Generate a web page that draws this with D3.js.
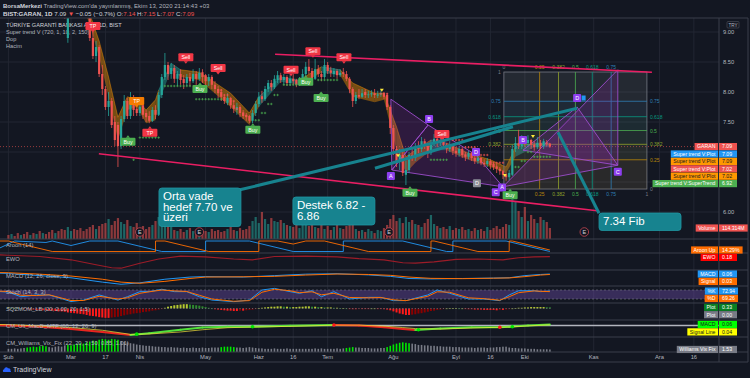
<!DOCTYPE html>
<html>
<head>
<meta charset="utf-8">
<title>BIST:GARAN 1D</title>
<script src="https://cdn.jsdelivr.net/npm/d3@7"></script>
<style>
  html, body { margin: 0; padding: 0; background: #131722; }
  svg { display: block; }
  text { font-family: "Liberation Sans", Arial, sans-serif; }
</style>
</head>
<body>
<div id="chart"></div>
<script>
// ---------- data (bar index 0 = 3 Şubat 2020, daily bars) ----------
// [open, high, low, close]
const candles = [
  [11.9,12.0,11.7,11.8],[11.8,11.95,11.6,11.9],[11.9,12.05,11.8,11.85],[11.85,11.9,11.6,11.65],
  [11.65,11.8,11.5,11.75],[11.75,11.85,11.55,11.6],[11.6,11.7,11.35,11.4],[11.4,11.55,11.3,11.5],
  [11.5,11.6,11.2,11.25],[11.25,11.4,11.1,11.3],[11.3,11.35,10.9,10.95],[10.95,11.1,10.8,11.05],
  [11.05,11.1,10.7,10.75],[10.75,10.9,10.5,10.55],[10.55,10.6,10.1,10.15],[10.15,10.4,10.0,10.3],
  [10.3,10.35,9.8,9.85],[9.85,9.9,9.4,9.45],[9.45,9.55,9.22,9.25],[8.9,9.7,8.82,9.6],
  [9.6,10.1,9.5,10.0],[10.0,10.2,9.8,9.9],[9.9,10.0,9.6,9.7],[9.7,9.8,9.4,9.5],
  [9.5,9.65,9.3,9.4],[9.4,9.5,9.25,9.3],[9.3,9.35,8.85,8.9],[8.9,9.0,8.55,8.6],
  [8.6,8.85,8.5,8.75],[8.75,8.78,8.25,8.3],[8.3,8.45,7.95,8.05],[8.05,8.1,7.7,7.75],
  [7.75,8.0,7.6,7.85],[7.85,7.9,7.4,7.45],[7.5,7.6,7.1,7.2],[7.45,7.5,6.75,7.1],
  [7.1,7.6,7.05,7.55],[7.55,7.95,7.5,7.85],[7.85,7.9,7.55,7.6],[7.6,8.0,7.55,7.9],
  [7.9,7.95,7.6,7.7],[7.72,7.85,7.6,7.65],[7.65,7.9,7.6,7.75],[7.78,7.82,7.55,7.62],
  [7.65,7.7,7.5,7.58],[7.6,7.68,7.48,7.52],[7.52,7.75,7.5,7.7],[7.7,7.78,7.55,7.62],
  [7.62,8.0,7.6,7.95],[7.95,8.3,7.9,8.25],[8.25,8.65,8.2,8.45],[8.45,8.5,8.2,8.3],
  [8.3,8.48,8.22,8.4],[8.4,8.45,8.15,8.22],[8.22,8.35,8.1,8.3],[8.3,8.38,8.12,8.2],
  [8.22,8.28,8.05,8.15],[8.15,8.3,8.1,8.25],[8.25,8.32,8.1,8.18],[8.18,8.38,8.15,8.3],
  [8.3,8.35,8.12,8.22],[8.22,8.4,8.18,8.32],[8.33,8.38,8.15,8.25],[8.28,8.3,8.08,8.18],
  [8.18,8.3,8.1,8.25],[8.25,8.28,8.05,8.12],[8.12,8.18,7.98,8.05],[8.05,8.1,7.9,7.98],
  [8.0,8.05,7.85,7.92],[7.92,7.96,7.8,7.85],[7.82,7.98,7.78,7.9],[7.9,7.92,7.72,7.78],
  [7.78,7.85,7.65,7.72],[7.7,7.82,7.62,7.75],[7.75,7.78,7.58,7.65],[7.66,7.7,7.55,7.6],
  [7.62,7.65,7.52,7.58],[7.6,7.62,7.48,7.52],[7.52,7.7,7.48,7.65],[7.65,7.85,7.6,7.8],
  [7.8,8.0,7.75,7.92],[7.93,8.02,7.82,7.88],[7.88,8.1,7.85,8.05],[8.05,8.2,8.0,8.15],
  [8.15,8.2,8.02,8.08],[8.08,8.28,8.05,8.22],[8.2,8.35,8.15,8.28],[8.28,8.32,8.15,8.2],
  [8.2,8.3,8.12,8.25],[8.25,8.28,8.1,8.15],[8.15,8.28,8.1,8.22],[8.22,8.3,8.12,8.18],
  [8.2,8.22,8.08,8.12],[8.12,8.25,8.1,8.2],[8.2,8.38,8.15,8.3],[8.3,8.5,8.25,8.42],
  [8.42,8.55,8.3,8.35],[8.35,8.4,8.15,8.22],[8.22,8.55,8.2,8.38],[8.38,8.45,8.25,8.3],
  [8.3,8.35,8.18,8.25],[8.25,8.55,8.22,8.45],[8.45,8.5,8.3,8.35],[8.36,8.42,8.25,8.32],
  [8.3,8.4,8.25,8.35],[8.35,8.38,8.22,8.28],[8.28,8.38,8.25,8.32],[8.33,8.4,8.25,8.3],
  [8.3,8.35,8.18,8.22],[8.22,8.25,7.98,8.05],[8.05,8.08,7.75,7.85],[7.85,8.0,7.8,7.95],
  [7.95,8.05,7.88,7.92],[7.92,8.05,7.9,7.98],[8.0,8.05,7.9,7.95],[7.95,8.02,7.9,7.96],
  [7.96,8.03,7.92,7.98],[7.98,8.05,7.9,7.95],[7.94,8.02,7.9,7.96],[7.96,8.03,7.92,7.98],
  [7.98,8.0,7.88,7.92],[7.95,7.98,7.7,7.75],[7.75,7.78,7.3,7.4],[7.4,7.45,6.95,7.05],
  [7.05,7.1,6.75,6.85],[6.85,7.05,6.7,6.95],[6.95,7.0,6.6,6.65],[6.62,6.85,6.45,6.7],
  [6.7,7.0,6.65,6.95],[6.95,7.05,6.85,6.9],[6.9,7.15,6.85,7.1],[7.1,7.18,6.98,7.05],
  [7.05,7.25,7.0,7.18],[7.18,7.22,7.05,7.1],[7.1,7.15,6.9,6.98],[6.98,7.2,6.95,7.15],
  [7.15,7.3,7.1,7.22],[7.22,7.25,7.08,7.15],[7.15,7.28,7.1,7.2],[7.2,7.3,7.05,7.12],
  [7.12,7.15,6.98,7.05],[7.05,7.18,7.0,7.1],[7.1,7.12,6.95,7.02],[7.02,7.08,6.92,6.98],
  [6.98,7.1,6.92,7.05],[7.05,7.08,6.9,6.95],[6.96,7.0,6.85,6.92],[6.92,7.02,6.88,6.98],
  [6.98,7.0,6.85,6.9],[6.9,6.95,6.8,6.85],[6.85,6.95,6.8,6.9],[6.9,6.92,6.78,6.82],
  [6.82,6.88,6.75,6.8],[6.8,6.9,6.75,6.85],[6.85,6.88,6.72,6.78],[6.8,6.82,6.7,6.75],
  [6.76,6.8,6.65,6.72],[6.72,6.75,6.62,6.68],[6.68,6.7,6.55,6.62],[6.62,6.66,6.52,6.58],
  [6.58,6.7,6.53,6.65],[6.62,7.12,6.6,7.05],[7.05,7.25,7.0,7.15],[7.15,7.37,7.05,7.1],
  [7.1,7.28,7.05,7.22],[7.22,7.25,7.08,7.15],[7.15,7.28,7.1,7.2],[7.2,7.22,7.05,7.12],
  [7.12,7.18,7.02,7.08],[7.08,7.25,7.05,7.15],[7.15,7.2,7.05,7.1],[7.1,7.22,7.05,7.18],
  [7.16,7.2,7.1,7.14],[7.14,7.15,7.07,7.09]
];

// volume, millions
const volume = [
  42,52,31,62,42,52,73,42,62,52,83,62,52,73,94,62,83,104,94,
  125,83,104,94,114,83,104,125,146,104,135,156,
  166,208,146,187,218,177,156,198,135,125,166,114,135,104,125,
  146,187,229,208,166,156,125,
  94,83,104,73,94,114,83,73,94,62,83,73,104,83,94,73,83,104,125,94,83,114,94,104,135,
  187,229,166,281,208,156,218,187,177,198,166,146,135,
  125,156,114,146,187,135,166,125,114,156,104,135,94,125,146,114,104,135,177,198,
  104,83,94,73,104,83,62,94,83,114,146,
  208,250,187,218,166,229,177,198,156,
  146,125,166,208,250,156,135,114,125,104,135,94,114,104,125,94,104,83,114,94,
  104,83,125,94,114,135,104,125,156,146,
  478,395,
  291,229,333,187,250,208,166,229,198,177,114.314
];

// x axis ticks
const tickBars = [0, 20, 31, 42, 63, 80, 91, 102, 123, 143, 154, 165, 187, 208, 219];
const tickLabels = ['Şub','Mar','17','Nis','May','Haz','16','Tem','Ağu','Eyl','16','Eki','Kas','Ara','16'];
const priceTicks = [6.0, 6.5, 7.0, 7.5, 8.0, 8.5, 9.0];

// Super trend V band: [bar, upper, lower, trend]
const stBand = [
  [24,9.6,9.4,'d'],[26,9.3,9.12,'d'],[29,8.85,8.58,'d'],[32,8.25,7.92,'d'],[35,7.58,7.2,'d'],
  [38,7.92,7.7,'d'],[41,7.87,7.75,'d'],[44,7.7,7.48,'d'],[47,7.87,7.53,'d'],[48,8.03,7.82,'u'],
  [52,8.48,8.37,'u'],[55,8.37,8.25,'d'],[61,8.33,8.2,'d'],[71,7.98,7.75,'d'],[77,7.65,7.45,'d'],
  [80,7.92,7.75,'u'],[87,8.25,8.17,'u'],[93,8.2,8.12,'d'],[100,8.42,8.32,'u'],[106,8.37,8.28,'d'],
  [110,8.15,7.92,'d'],[117,7.98,7.83,'d'],[120,7.98,7.87,'d'],[124,7.42,7.03,'d'],[127,6.92,6.65,'d'],
  [130,7.03,6.82,'d'],[135,7.2,7.03,'u'],[140,7.15,7.03,'d'],[147,6.98,6.87,'d'],[154,6.87,6.75,'d'],
  [159,6.75,6.65,'d'],[162,7.08,6.92,'u'],[168,7.15,7.08,'u'],[173,7.15,7.08,'u']
];

// trailing stop dots: [fromBar, toBar, price, side]
const stDots = [
  [40,40,6.87,'g'],[42,48,7.24,'g'],[50,58,8.1,'g'],[60,68,7.88,'g'],
  [79,80,7.53,'g'],[81,82,7.65,'g'],[83,84,7.8,'g'],[85,86,7.95,'g'],[88,93,8.12,'g'],
  [99,105,8.2,'g'],[135,140,6.87,'g'],[162,163,6.75,'g'],[164,165,6.85,'g'],[166,167,7.0,'g'],[168,173,6.92,'g'],
  [67,68,8.03,'r'],[69,70,7.95,'r'],[71,72,7.85,'r'],[73,74,7.72,'r'],[119,121,7.97,'r'],
  [142,145,7.2,'r'],[146,149,7.08,'r'],[150,153,6.95,'r'],[154,158,6.82,'r']
];

// signal labels: [bar, price, text, pointer]
const signals = [
  [27,9.1,'TP','down'],[38.2,7.17,'Buy','up'],[41,7.85,'TP','down'],[45.2,7.32,'TP','up'],
  [56.7,8.58,'Sell','down'],[61.2,8.05,'Buy','up'],[67,8.4,'Sell','down'],[78.1,7.37,'Buy','up'],
  [90.3,8.37,'Sell','down'],[95,8.17,'Buy','up'],[97.3,8.68,'Sell','down'],[99.9,7.9,'Buy','up'],
  [107.2,8.58,'Sell','down'],[138.5,7.3,'Sell','down'],[128.3,6.32,'Buy','up'],[160.3,6.28,'Buy','up']
];
const tpOrangeBar = 41;

// small yellow markers
const tMarks = [[119.3,8.02],[124.5,6.93],[158.6,6.6],[167.6,7.25]];

// earnings markers (bar index)
const earnings = [42, 61, 121.6, 184];

// trend lines [[bar, price], [bar, price]]
const pinkLines = [
  [[28.9,6.97],[188.1,6.02]],
  [[85.2,8.63],[205.6,8.33]]
];

// harmonic patterns
const patternPolys = [
  [[122.2,7.88],[134.1,7.45],[122.5,6.70]],
  [[134.1,7.45],[149.4,6.95],[158,6.42],[122.5,6.70]],
  [[158,6.42],[194.7,8.37],[194.7,6.78]],
  [[164.4,7.03],[181.7,7.75],[194.7,6.78]]
];
const patternLabels = [
  [122.2,6.6,'A'],[134.4,7.55,'B'],[149.4,7.0,'D'],[155.7,6.33,'C'],[157.7,6.41,'A'],
  [164.4,7.2,'B'],[181.7,7.9,'D'],[194.7,6.67,'C']
];
const grayLabel = [149.7,6.48,'D'];

// fib grid
const fibBars = [158.3, 204.0];
const fibPrices = [6.383, 8.333];
const fibLevels = [0, 0.25, 0.382, 0.5, 0.618, 0.75, 1];

// callouts: anchor [bar, price] of the box top-left, the pointer line, text lines
const callouts = [
  { at: [48.1, 6.4], line: [[74,6.37],[181.7,7.73]], text: ['Orta vade','hedef 7.70 ve','üzeri'] },
  { at: [90.9, 6.25], line: [[117.1,6.73],[161.2,7.42]], text: ['Destek 6.82 -','6.86'] },
  { at: [188.7, 5.983], line: [[188.7,5.98],[175.6,7.33]], text: ['7.34 Fib'] }
];

// Aroon (14): [bar, value]
const aroonUp = [[-3,100],[0,100],[14,0],[47,0],[47.01,100],[50,100],[64,0],[80,0],[80.01,100],[86,100],[91,71],
  [95,100],[101,100],[115,0],[135,0],[135.01,100],[136,100],[150,0],[160,0],[160.01,100],[161,100],[173,14.29]];
const aroonDown = [[-3,30],[2,100],[12,86],[14,100],[20,57],[26,100],[35,100],[49,0],[63,0],[63.01,100],[66,100],
  [77,100],[91,0],[107,0],[107.01,100],[110,100],[119,100],[126,100],[140,0],[142,0],[142.01,100],[154,100],[159,100],[173,0]];

// EWO
const ewo = [[-3,0.4],[0,0.35],[10,0.2],[20,-0.2],[28,-0.8],[33,-1.15],[36,-1.2],[42,-0.6],[48,-0.1],[55,0.25],
  [63,0.15],[72,-0.1],[78,-0.2],[85,0.2],[95,0.25],[105,0.15],[112,-0.05],[120,-0.2],[126,-0.55],[130,-0.6],
  [136,-0.45],[143,-0.15],[150,-0.1],[158,-0.2],[163,0.05],[168,0.15],[173,0.18]];

// MACD (12, 26, close, 9)
const macdLine = [[-3,0.12],[0,0.1],[10,-0.05],[20,-0.2],[30,-0.5],[36,-0.65],[42,-0.55],[50,-0.3],[58,-0.15],
  [63,-0.12],[75,-0.15],[85,-0.05],[95,0.05],[105,0.08],[115,0.0],[122,-0.1],[128,-0.25],[135,-0.28],[145,-0.25],
  [155,-0.22],[160,-0.2],[165,-0.05],[170,0.03],[173,0.06]];
const macdSignal = [[-3,0.16],[0,0.15],[10,0.05],[20,-0.08],[30,-0.3],[36,-0.5],[42,-0.58],[50,-0.45],[58,-0.25],
  [63,-0.15],[75,-0.13],[85,-0.1],[95,-0.01],[105,0.06],[115,0.03],[122,-0.03],[128,-0.15],[135,-0.24],[145,-0.26],
  [155,-0.23],[160,-0.21],[165,-0.12],[170,-0.01],[173,0.03]];

// Stoch (14, 3, 3)
const stochK = [[-3,70],[0,66],[4,35],[9,47],[13,47],[20,3],[24,13],[29,47],[35,13],[38,35],[42,69],[45,69],[49,85],
  [53,69],[57,69],[61,35],[65,13],[72,2],[77,13],[81,80],[85,91],[90,69],[93,58],[97,75],[100,35],[104,69],
  [109,20],[115,31],[119,31],[123,9],[127,9],[134,47],[137,80],[141,58],[147,20],[152,20],[157,9],[160,47],
  [163,75],[168,75],[170,69],[173,72.94]];
const stochD = [[-3,72],[0,70],[4,45],[9,43],[13,48],[20,10],[24,10],[29,38],[35,20],[38,28],[42,58],[45,68],[49,80],
  [53,74],[57,70],[61,45],[65,20],[72,5],[77,9],[81,65],[85,85],[90,75],[93,62],[97,68],[100,48],[104,58],
  [109,30],[115,28],[119,30],[123,15],[127,9],[134,38],[137,68],[141,65],[147,28],[152,22],[157,12],[160,35],
  [163,62],[168,74],[170,71],[173,69.26]];

// SQZMOM_LB momentum per bar
const sqz = [
  0.3,0.2,0.2,0.1,0.0,-0.1,
  -0.2,-0.3,-0.3,-0.4,-0.4,-0.5,-0.5,-0.6,-0.6,-0.7,-0.8,-0.8,-0.9,-1.1,
  -1.2,-1.3,-1.4,-1.5,-1.6,-1.8,-2.0,-2.1,-2.2,-2.4,-2.5,-2.6,-2.6,-2.5,-2.4,-2.3,
  -2.1,-1.9,-1.7,-1.6,-1.4,-1.3,-1.2,-1.0,-0.9,-0.8,-0.6,-0.5,-0.3,-0.1,0.2,
  0.5,0.7,0.9,1.0,1.1,1.2,1.2,1.1,1.0,0.9,0.8,0.6,0.4,
  0.2,0.0,-0.2,-0.3,-0.4,-0.5,-0.6,-0.6,-0.7,-0.7,-0.6,-0.6,-0.5,-0.4,-0.3,
  -0.1,0.1,0.2,0.3,0.4,0.5,0.5,0.6,0.6,0.5,0.5,0.4,0.4,0.4,0.5,0.5,0.6,0.6,0.5,0.5,0.4,0.4,0.3,0.3,0.3,0.2,0.2,
  0.1,0.1,0.0,-0.1,-0.2,-0.2,-0.1,-0.1,-0.1,-0.1,0.0,0.0,-0.1,-0.1,-0.2,-0.3,
  -0.5,-0.8,-1.1,-1.4,-1.6,-1.8,-1.8,-1.7,-1.6,-1.4,-1.3,-1.1,-0.9,-0.7,-0.6,-0.4,-0.3,-0.1,0.0,
  0.1,0.1,0.1,0.0,0.0,-0.1,
  -0.2,-0.2,-0.3,-0.3,-0.3,-0.4,-0.4,-0.4,-0.4,-0.5,-0.4,-0.4,-0.3,-0.2,
  0.0,0.1,0.2,0.2,0.3,0.3,0.4,0.4,0.4,0.4,0.4,0.35,0.33
];

// CM_Ult_MacD_MTF
const cmMacd = [[-3,0.02],[0,0.0],[10,-0.08],[20,-0.2],[30,-0.38],[39,-0.56],[45,-0.45],[55,-0.25],[62,-0.12],
  [70,-0.08],[78,-0.07],[90,-0.02],[104,0.03],[112,0.0],[120,-0.1],[126,-0.2],[130,-0.26],[138,-0.18],[148,-0.1],
  [157,-0.1],[160,-0.08],[166,0.0],[173,0.06]];
const cmSignal = [[-3,0.06],[0,0.05],[10,-0.03],[20,-0.12],[30,-0.28],[39,-0.52],[45,-0.5],[55,-0.38],[62,-0.25],
  [70,-0.13],[78,-0.09],[90,-0.05],[104,0.02],[112,0.02],[120,-0.04],[126,-0.12],[130,-0.18],[138,-0.21],[148,-0.15],
  [157,-0.1],[160,-0.09],[166,-0.02],[173,0.04]];
const cmCross = [[41,-0.51,'up'],[78,-0.07,'up'],[104,0.03,'dn'],[131,-0.25,'up'],[157,-0.1,'dn'],[161,-0.07,'up']];

// CM_Williams_Vix_Fix per bar
const wvf = [
  3,3,4,3,4,5,
  6,7,8,7,9,10,9,
  7,6,8,9,8,10,
  12,11,13,14,16,15,18,20,22,21,24,26,25,24,26,25,24,
  21,19,18,16,15,13,12,
  11,10,10,9,8,8,7,7,6,7,6,6,5,6,5,5,6,5,5,6,5,
  5,6,6,6,7,8,8,8,7,6,6,5,
  6,7,6,5,4,4,3,3,3,4,3,3,3,4,3,3,3,3,3,3,3,3,4,3,4,3,3,3,3,4,3,4,5,6,7,
  6,6,5,5,5,4,4,4,5,5,7,
  10,13,15,17,18,17,16,15,14,12,
  12,11,11,10,10,9,9,8,8,8,7,7,7,6,6,6,6,5,6,
  6,6,5,6,6,7,7,8,8,6,5,5,4,4,4,3,3,3,2,2,2,2,1.53
];
const wvfAlertRanges = [[6,12],[19,35],[68,72],[108,110],[121,128]];

// right-axis tags: [label, value text, value, scale key, colour key]
const tags = [
  ['GARAN','7.09',7.09,'price','red'],
  ['Super trend V:Plot','7.09',7.09,'price','blue'],
  ['Super trend V:Plot','7.09',7.09,'price','orange'],
  ['Super trend V:Plot','7.02',7.02,'price','red'],
  ['Super trend V:Plot','7.02',7.02,'price','orange'],
  ['Super trend V:SuperTrend','6.92',6.92,'price','green'],
  ['Volume','114.314M',114.314,'vol','red'],
  ['Aroon Up','14.29%',14.29,'aroon','orange2'],
  ['EWO','0.18',0.18,'ewo','pure'],
  ['MACD','0.06',0.06,'macd','blue'],
  ['Signal','0.03',0.03,'macd','orange2'],
  ['%K','72.94',72.94,'stoch','blue'],
  ['%D','69.26',69.26,'stoch','orange2'],
  ['Plot','0.33',0.33,'sqz','dgreen'],
  ['Plot','0.00',0,'sqz','gray'],
  ['MACD','0.06',0.06,'cm','lime'],
  ['Signal Line','0.04',0.04,'cm','yellow'],
  ['Williams Vix Fix','1.53',1.53,'wvf','gray']
];

// ---------- layout & styles ----------
const W = 750, H = 378;
const AXIS_X = 719, RIGHT = 748;
const MAIN = { y0: 18, y1: 239 };
const panes = [
  { key: 'aroon', y0: 239, y1: 253, title: 'Aroon (14)' },
  { key: 'ewo', y0: 253, y1: 270, title: 'EWO' },
  { key: 'macd', y0: 270, y1: 286, title: 'MACD (12, 26, close, 9)' },
  { key: 'stoch', y0: 286, y1: 303, title: 'Stoch (14, 3, 3)' },
  { key: 'sqz', y0: 303, y1: 320, title: 'SQZMOM_LB (20, 2.00, 20, 1.5)' },
  { key: 'cm', y0: 320, y1: 337, title: 'CM_Ult_MacD_MTF (60, 12, 26, 9)' },
  { key: 'wvf', y0: 337, y1: 352, title: 'CM_Williams_Vix_Fix (22, 20, 2, 50, 0.85, 1.01)' }
];
const BG = '#131722', GRID = '#222632', SEP = '#3a3e4a', TXT = '#b2b5be';
const UP = '#26a69a', DOWN = '#ef5350';
const tagColors = {
  red: ['#ef5350', '#ffffff'], blue: ['#2196f3', '#ffffff'], orange: ['#ff9800', '#131722'],
  green: ['#4caf50', '#ffffff'], orange2: ['#ff6d00', '#ffffff'], pure: ['#ff0000', '#ffffff'],
  dgreen: ['#087f23', '#ffffff'], gray: ['#787b86', '#ffffff'], lime: ['#00ff00', '#131722'],
  yellow: ['#ffff00', '#131722']
};
const fibColors = { 0: '#787b86', 0.25: '#b8860b', 0.382: '#8fa12b', 0.5: '#4caf50', 0.618: '#089981', 0.75: '#2f7fb5', 1: '#787b86' };
const TEAL = '#17838f';

// ---------- scales ----------
const x = d3.scaleLinear().domain([0, 173]).range([8.4, 8.4 + 173 * 3.13]);
const priceY = d3.scaleLinear().domain([6, 9]).range([212, 32]);
const volY = d3.scaleLinear().domain([0, 520]).range([239, 189]);
const sc = {
  price: priceY,
  vol: volY,
  aroon: d3.scaleLinear().domain([0, 100]).range([251.5, 241]),
  ewo: d3.scaleLinear().domain([-1.3, 0.5]).range([269, 254]),
  macd: d3.scaleLinear().domain([-0.7, 0.2]).range([285, 272]),
  stoch: d3.scaleLinear().domain([0, 100]).range([302, 287]),
  sqz: d3.scaleLinear().domain([-3, 1.5]).range([319.3, 303.1]),
  cm: d3.scaleLinear().domain([-0.6, 0.25]).range([335.7, 321.25]),
  wvf: d3.scaleLinear().domain([-2, 28]).range([351, 338])
};

// ---------- svg ----------
const svg = d3.select('#chart').append('svg')
  .attr('width', W).attr('height', H);
svg.append('rect').attr('width', W).attr('height', H).attr('fill', BG);
const defs = svg.append('defs');
function clipRect(id, y0, y1) {
  defs.append('clipPath').attr('id', id).append('rect')
    .attr('x', 0).attr('y', y0).attr('width', AXIS_X).attr('height', y1 - y0);
  return `url(#${id})`;
}

// grid
const grid = svg.append('g');
tickBars.forEach(b => {
  grid.append('line').attr('x1', x(b)).attr('x2', x(b)).attr('y1', MAIN.y0).attr('y2', 352)
    .attr('stroke', GRID).attr('stroke-width', 1);
});
priceTicks.forEach(p => {
  grid.append('line').attr('x1', 0).attr('x2', AXIS_X).attr('y1', priceY(p)).attr('y2', priceY(p))
    .attr('stroke', GRID);
});

// main legend (under the marks, as on the original)
const legend = svg.append('g').attr('font-size', 5.6);
['TÜRKİYE GARANTİ BANKASI A.Ş. , 1D, BIST', 'Super trend V (720, 1, 10, 2, 150)', 'Dop', 'Hacim']
  .forEach((t, k) => legend.append('text').attr('x', 6).attr('y', 27 + k * 7)
    .attr('fill', k === 0 ? '#d1d4dc' : TXT).text(t));

// ---------- main pane ----------
const main = svg.append('g').attr('clip-path', clipRect('clipMain', MAIN.y0, MAIN.y1));
const isUp = d => d[3] >= d[0];

// volume
main.append('g').selectAll('rect').data(volume).join('rect')
  .attr('x', (d, i) => x(i) - 1.1).attr('width', 2.2)
  .attr('y', d => volY(d)).attr('height', d => volY(0) - volY(d))
  .attr('fill', (d, i) => isUp(candles[i]) ? UP : DOWN).attr('opacity', 0.55);

// earnings markers
earnings.forEach(b => {
  const g = main.append('g').attr('transform', `translate(${x(b)},232)`);
  g.append('circle').attr('r', 4.3).attr('fill', BG).attr('stroke', '#b3424d').attr('stroke-width', 0.9);
  g.append('text').attr('y', 2).attr('text-anchor', 'middle').attr('font-size', 5.5)
    .attr('fill', '#d1d4dc').text('E');
});

// last price line
main.append('line').attr('x1', 0).attr('x2', AXIS_X)
  .attr('y1', priceY(candles[173][3])).attr('y2', priceY(candles[173][3]))
  .attr('stroke', '#ef5350').attr('stroke-opacity', 0.6).attr('stroke-dasharray', '1,2');

// super trend band
const bandFill = { d: 'rgba(255,152,0,0.42)', u: 'rgba(38,166,154,0.45)' };
const bandEdge = { d: '#ff9800', u: '#26a69a' };
for (let k = 0; k < stBand.length - 1; k++) {
  const seg = [stBand[k], stBand[k + 1]];
  main.append('path')
    .attr('d', d3.area().x(d => x(d[0])).y0(d => priceY(d[2])).y1(d => priceY(d[1]))(seg))
    .attr('fill', bandFill[seg[0][3]]);
  main.append('path')
    .attr('d', d3.line().x(d => x(d[0])).y(d => priceY(d[1]))(seg))
    .attr('stroke', bandEdge[seg[0][3]]).attr('stroke-opacity', 0.7).attr('stroke-width', 0.6).attr('fill', 'none');
}

// fib grid
const fx = d3.scaleLinear().domain([0, 1]).range([x(fibBars[0]), x(fibBars[1])]);
const fy = d3.scaleLinear().domain([0, 1]).range([priceY(fibPrices[0]), priceY(fibPrices[1])]);
const fib = main.append('g');
fib.append('rect').attr('x', fx(0)).attr('y', fy(1)).attr('width', fx(1) - fx(0)).attr('height', fy(0) - fy(1))
  .attr('fill', 'rgba(120,123,134,0.12)').attr('stroke', '#787b86').attr('stroke-width', 0.8);
for (let k = 0; k < fibLevels.length - 1; k++) {
  const a = fibLevels[k], b = fibLevels[k + 1];
  fib.append('rect').attr('x', fx(0)).attr('y', fy(b)).attr('width', fx(1) - fx(0)).attr('height', fy(a) - fy(b))
    .attr('fill', fibColors[b]).attr('opacity', 0.07);
}
fibLevels.slice(1, -1).forEach(l => {
  fib.append('line').attr('x1', fx(0)).attr('x2', fx(1)).attr('y1', fy(l)).attr('y2', fy(l))
    .attr('stroke', fibColors[l]).attr('stroke-width', 0.8);
  fib.append('line').attr('x1', fx(l)).attr('x2', fx(l)).attr('y1', fy(0)).attr('y2', fy(1))
    .attr('stroke', fibColors[l]).attr('stroke-width', 0.8);
});
const fibText = (tx, ty, anchor, l) => fib.append('text').attr('x', tx).attr('y', ty)
  .attr('text-anchor', anchor).attr('font-size', 5).attr('fill', fibColors[l]).text(String(l));
fibLevels.forEach(l => {
  if (l < 1) fibText(fx(l), fy(1) - 3, 'middle', l);
  if (l > 0) fibText(fx(l), fy(0) + 7, 'middle', l);
  if (l >= 0.382) fibText(fx(0) - 3, fy(l) + 2, 'end', l);
  if (l < 1) fibText(fx(1) + 3, fy(l) + 2, 'start', l);
});

// harmonic patterns
const pat = main.append('g');
patternPolys.forEach(poly => {
  pat.append('path')
    .attr('d', d3.line().x(d => x(d[0])).y(d => priceY(d[1]))(poly) + 'Z')
    .attr('fill', 'rgba(156,39,176,0.2)').attr('stroke', '#9c4dcc').attr('stroke-width', 0.9);
});

// candles
const cg = main.append('g');
cg.selectAll('line').data(candles).join('line')
  .attr('x1', (d, i) => x(i)).attr('x2', (d, i) => x(i))
  .attr('y1', d => priceY(d[1])).attr('y2', d => priceY(d[2]))
  .attr('stroke', d => isUp(d) ? UP : DOWN).attr('stroke-width', 0.8);
cg.selectAll('rect').data(candles).join('rect')
  .attr('x', (d, i) => x(i) - 1.1).attr('width', 2.2)
  .attr('y', d => priceY(Math.max(d[0], d[3])))
  .attr('height', d => Math.max(0.8, Math.abs(priceY(d[0]) - priceY(d[3]))))
  .attr('fill', d => isUp(d) ? UP : DOWN);

// trailing stop dots
const dotColor = { g: '#4caf50', r: '#ef5350' };
stDots.forEach(([b0, b1, p, s]) => {
  d3.range(b0, b1 + 1).forEach(b => {
    main.append('path').attr('d', `M${x(b) - 1.2},${priceY(p)}h2.4M${x(b)},${priceY(p) - 1.2}v2.4`)
      .attr('stroke', dotColor[s]).attr('stroke-width', 0.7);
  });
});

// yellow markers
tMarks.forEach(([b, p]) => {
  main.append('path').attr('d', `M${x(b) - 2},${priceY(p) - 2}h4l-2,3z`).attr('fill', '#ffeb3b');
});

// pink trend lines
pinkLines.forEach(l => {
  main.append('path').attr('d', d3.line().x(d => x(d[0])).y(d => priceY(d[1]))(l))
    .attr('stroke', '#e91e63').attr('stroke-width', 1.6).attr('fill', 'none');
});

// pattern labels
patternLabels.concat([grayLabel]).forEach(([b, p, t], k) => {
  const gray = k === patternLabels.length;
  const g = main.append('g').attr('transform', `translate(${x(b)},${priceY(p)})`);
  g.append('rect').attr('x', -4).attr('y', -4).attr('width', 8).attr('height', 8).attr('rx', 1)
    .attr('fill', gray ? '#8a8d96' : '#8e3ff0');
  g.append('text').attr('y', 2).attr('text-anchor', 'middle').attr('font-size', 5.5)
    .attr('fill', '#fff').text(t);
});
main.append('rect').attr('x', x(patternLabels[6][0]) + 4.5).attr('y', priceY(patternLabels[6][1]) - 2.5)
  .attr('width', 4).attr('height', 5).attr('fill', '#2196f3');

// buy / sell / tp labels
const sigFill = { Buy: '#4caf50', Sell: '#f23645', TP: '#f23645' };
signals.forEach(([b, p, t, dir]) => {
  const fill = (t === 'TP' && b === tpOrangeBar) ? '#f57c00' : sigFill[t];
  const g = main.append('g').attr('transform', `translate(${x(b)},${priceY(p)})`);
  g.append('rect').attr('x', -7.5).attr('y', -4).attr('width', 15).attr('height', 8).attr('rx', 1).attr('fill', fill);
  g.append('path').attr('d', dir === 'down' ? 'M-2,4L0,6.5L2,4Z' : 'M-2,-4L0,-6.5L2,-4Z').attr('fill', fill);
  g.append('text').attr('y', 2).attr('text-anchor', 'middle').attr('font-size', 5.3)
    .attr('fill', '#fff').text(t);
});

// callouts
callouts.forEach(c => {
  main.append('path').attr('d', d3.line().x(d => x(d[0])).y(d => priceY(d[1]))(c.line))
    .attr('stroke', TEAL).attr('stroke-width', 3).attr('fill', 'none');
});
callouts.forEach(c => {
  const bx = x(c.at[0]), by = priceY(c.at[1]);
  const h = c.text.length * 10.5 + 7;
  const g = main.append('g').attr('transform', `translate(${bx},${by})`);
  g.append('rect').attr('width', 82).attr('height', h).attr('rx', 3)
    .attr('fill', TEAL).attr('stroke', '#1f97a3').attr('stroke-width', 0.8);
  c.text.forEach((t, k) => {
    g.append('text').attr('x', 4).attr('y', 12 + k * 10.5).attr('font-size', 11.5)
      .attr('fill', '#ffffff').text(t);
  });
});

// ---------- indicator panes ----------
const paneG = {};
panes.forEach(p => {
  paneG[p.key] = svg.append('g').attr('clip-path', clipRect('clip_' + p.key, p.y0, p.y1));
});
const lineOf = s => d3.line().x(d => x(d[0])).y(d => sc[s](d[1]));

// aroon
paneG.aroon.append('path').attr('d', lineOf('aroon')(aroonDown)).attr('stroke', '#2196f3').attr('fill', 'none').attr('stroke-width', 0.9);
paneG.aroon.append('path').attr('d', lineOf('aroon')(aroonUp)).attr('stroke', '#ff6d00').attr('fill', 'none').attr('stroke-width', 0.9);

// ewo
paneG.ewo.append('path').attr('d', lineOf('ewo')(ewo)).attr('stroke', '#9c1c28').attr('fill', 'none').attr('stroke-width', 1.1);

// macd
paneG.macd.append('path').attr('d', lineOf('macd')(macdLine)).attr('stroke', '#2196f3').attr('fill', 'none').attr('stroke-width', 1);
paneG.macd.append('path').attr('d', lineOf('macd')(macdSignal)).attr('stroke', '#ff6d00').attr('fill', 'none').attr('stroke-width', 1);

// stoch
paneG.stoch.append('rect').attr('x', 0).attr('width', AXIS_X)
  .attr('y', sc.stoch(80)).attr('height', sc.stoch(20) - sc.stoch(80)).attr('fill', 'rgba(126,87,194,0.35)');
[80, 20].forEach(v => paneG.stoch.append('line').attr('x1', 0).attr('x2', AXIS_X)
  .attr('y1', sc.stoch(v)).attr('y2', sc.stoch(v)).attr('stroke', '#787b86').attr('stroke-dasharray', '2,2').attr('stroke-width', 0.6));
paneG.stoch.append('path').attr('d', lineOf('stoch')(stochK)).attr('stroke', '#2196f3').attr('fill', 'none').attr('stroke-width', 1);
paneG.stoch.append('path').attr('d', lineOf('stoch')(stochD)).attr('stroke', '#ff6d00').attr('fill', 'none').attr('stroke-width', 1);

// sqzmom
const sqzColor = (v, i) => {
  const prev = i > 0 ? sqz[i - 1] : v;
  if (v >= 0) return v >= prev ? '#b5c930' : '#2e8b2e';
  return v <= prev ? '#ff1a1a' : '#8b0000';
};
paneG.sqz.append('g').selectAll('rect').data(sqz).join('rect')
  .attr('x', (d, i) => x(i) - 1).attr('width', 2)
  .attr('y', d => Math.min(sc.sqz(0), sc.sqz(d))).attr('height', d => Math.max(0.6, Math.abs(sc.sqz(d) - sc.sqz(0))))
  .attr('fill', sqzColor);
paneG.sqz.append('g').selectAll('circle').data(sqz).join('circle')
  .attr('cx', (d, i) => x(i)).attr('cy', sc.sqz(0)).attr('r', 0.6).attr('fill', '#6b6e78');

// cm ult macd
paneG.cm.append('line').attr('x1', 0).attr('x2', AXIS_X).attr('y1', sc.cm(0)).attr('y2', sc.cm(0))
  .attr('stroke', '#b2b5be').attr('stroke-width', 1.4);
for (let k = 0; k < cmMacd.length - 1; k++) {
  const seg = [cmMacd[k], cmMacd[k + 1]];
  const above = cmMacd[k + 1][1] >= cmSignal[k + 1][1];
  paneG.cm.append('path').attr('d', lineOf('cm')(seg))
    .attr('stroke', above ? '#52e03a' : '#e8251f').attr('stroke-width', 2).attr('fill', 'none').attr('stroke-linecap', 'round');
}
paneG.cm.append('path').attr('d', lineOf('cm')(cmSignal)).attr('stroke', '#ffeb3b').attr('fill', 'none').attr('stroke-width', 0.8).attr('stroke-opacity', 0.85);
cmCross.forEach(([b, v, t]) => paneG.cm.append('circle').attr('cx', x(b)).attr('cy', sc.cm(v)).attr('r', 1.8)
  .attr('fill', t === 'up' ? '#00e600' : '#ff1a1a'));

// williams vix fix
const inAlert = i => wvfAlertRanges.some(([a, b]) => i >= a && i <= b);
paneG.wvf.append('g').selectAll('rect').data(wvf).join('rect')
  .attr('x', (d, i) => x(i) - 0.8).attr('width', 1.6)
  .attr('y', d => sc.wvf(d)).attr('height', d => 352 - sc.wvf(d))
  .attr('fill', (d, i) => inAlert(i) ? '#00e600' : '#787b86');

// pane titles and separators
panes.forEach(p => {
  svg.append('line').attr('x1', 0).attr('x2', RIGHT).attr('y1', p.y0).attr('y2', p.y0)
    .attr('stroke', SEP).attr('stroke-width', 1);
  svg.append('text').attr('x', 6).attr('y', p.y0 + 8).attr('font-size', 5.8).attr('fill', TXT).text(p.title);
});

// ---------- frame & axes ----------
const frame = svg.append('g').attr('stroke', SEP).attr('stroke-width', 1);
frame.append('line').attr('x1', 0).attr('x2', RIGHT).attr('y1', MAIN.y0).attr('y2', MAIN.y0);
frame.append('line').attr('x1', 0).attr('x2', RIGHT).attr('y1', 352).attr('y2', 352);
frame.append('line').attr('x1', 0).attr('x2', RIGHT).attr('y1', 362).attr('y2', 362);
frame.append('line').attr('x1', AXIS_X).attr('x2', AXIS_X).attr('y1', MAIN.y0).attr('y2', 362);
frame.append('line').attr('x1', RIGHT).attr('x2', RIGHT).attr('y1', MAIN.y0).attr('y2', 362);

// x axis labels
tickBars.forEach((b, k) => {
  svg.append('text').attr('x', x(b)).attr('y', 359).attr('text-anchor', 'middle')
    .attr('font-size', 5.8).attr('fill', TXT).text(tickLabels[k]);
});

// tags: stack down when they overlap
const TAG_H = 7.2, TAG_GAP = 7.4;
let prevY = -Infinity;
const tagPos = tags.map(t => {
  let ty = sc[t[3]](t[2]);
  if (ty < prevY + TAG_GAP) ty = prevY + TAG_GAP;
  prevY = ty;
  return ty;
});
const priceTagYs = tagPos.filter((d, k) => tags[k][3] === 'price');

// price axis labels
priceTicks.forEach(p => {
  if (priceTagYs.some(ty => Math.abs(ty - priceY(p)) < 5)) return;
  svg.append('text').attr('x', 723).attr('y', priceY(p) + 2).attr('font-size', 5.8).attr('fill', TXT)
    .text(d3.format('.2f')(p));
});

// TRY badge
svg.append('rect').attr('x', 727).attr('y', 21.5).attr('width', 12).attr('height', 6.5).attr('rx', 1)
  .attr('fill', 'none').attr('stroke', '#50535e').attr('stroke-width', 0.6);
svg.append('text').attr('x', 733).attr('y', 26.5).attr('text-anchor', 'middle').attr('font-size', 4.6)
  .attr('fill', TXT).text('TRY');

const tagLayer = svg.append('g');
tags.forEach((t, k) => {
  const [fill, ink] = tagColors[t[4]];
  const ty = tagPos[k];
  const g = tagLayer.append('g').attr('transform', `translate(0,${ty})`);
  const lab = g.append('text').attr('y', 1.8).attr('font-size', 5.2).attr('fill', ink).text(t[0]);
  const lw = lab.node().getComputedTextLength() + 5;
  const val = g.append('text').attr('y', 1.8).attr('font-size', 5.2).attr('fill', ink).text(t[1]);
  const vw = Math.max(18, val.node().getComputedTextLength() + 6);
  g.insert('rect', 'text').attr('x', AXIS_X - 1 - lw).attr('y', -TAG_H / 2).attr('width', lw).attr('height', TAG_H).attr('fill', fill);
  g.insert('rect', 'text').attr('x', AXIS_X).attr('y', -TAG_H / 2).attr('width', vw).attr('height', TAG_H).attr('fill', fill);
  lab.attr('x', AXIS_X - 1 - lw + 2.5);
  val.attr('x', AXIS_X + 3);
});

// ---------- header ----------
const head1 = svg.append('text').attr('x', 3).attr('y', 7.5).attr('font-size', 6).attr('fill', TXT);
head1.append('tspan').attr('font-weight', 'bold').attr('fill', '#d1d4dc').text('BorsaMerkezi');
head1.append('tspan').text(" TradingView.com'da yayınlanmış, Ekim 13, 2020 21:14:43 +03");
const head2 = svg.append('text').attr('x', 3).attr('y', 15.5).attr('font-size', 6.2).attr('fill', '#d1d4dc');
head2.append('tspan').attr('font-weight', 'bold').text('BIST:GARAN, 1D ');
head2.append('tspan').text('7.09 ');
head2.append('tspan').attr('fill', '#ef5350').text('▼ ');
head2.append('tspan').text('−0.05 (−0.7%) O:');
head2.append('tspan').attr('fill', '#ef5350').text('7.14');
head2.append('tspan').text(' H:');
head2.append('tspan').attr('fill', '#ef5350').text('7.15');
head2.append('tspan').text(' L:');
head2.append('tspan').attr('fill', '#ef5350').text('7.07');
head2.append('tspan').text(' C:');
head2.append('tspan').attr('fill', '#ef5350').text('7.09');

// ---------- TradingView logo ----------
const logo = svg.append('g').attr('transform', 'translate(3,366)');
logo.append('path').attr('d', 'M1,6 C-0.5,6 -0.5,3.3 1.2,3.2 C1.4,1 4.2,0.4 5,2.2 C6.8,1.8 8,3.4 7.3,4.6 C8.6,5 8.2,6.2 7.2,6 Z')
  .attr('fill', '#2962ff');
logo.append('text').attr('x', 10).attr('y', 6.3).attr('font-size', 7).attr('fill', '#d1d4dc').text('TradingView');
</script>
</body>
</html>
